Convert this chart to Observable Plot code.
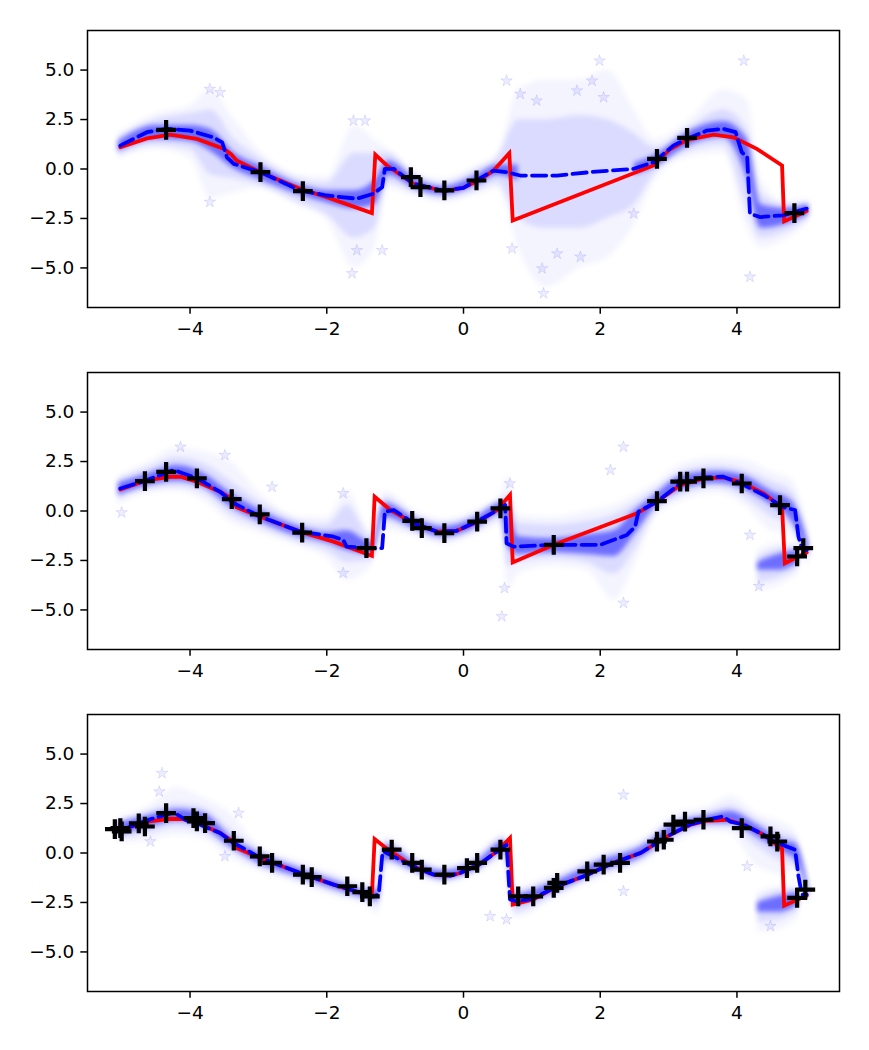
<!DOCTYPE html>
<html>
<head>
<meta charset="utf-8">
<script src="https://cdn.jsdelivr.net/npm/d3@7"></script>
<script src="https://cdn.jsdelivr.net/npm/@observablehq/plot@0.6"></script>
<style>
  body { margin: 0; background: #fff; }
  #chart svg { display: block; }
</style>
</head>
<body>
<div id="chart"></div>
<script>
// ---------- tick labels ----------
const xTicks = [-4, -2, 0, 2, 4];
const yTicks = [-5, -2.5, 0, 2.5, 5];

// ---------- panel 1 (top) ----------
const truthTop = [[-5.02,1.10],[-4.63,1.55],[-4.29,1.74],[-3.90,1.52],[-3.51,1.02],[-3.40,0.75],[-3.32,0.43],[-2.97,-0.16],[-2.39,-1.0],[-2.0,-1.42],[-1.34,-2.23],[-1.29,0.73],[-1.12,0.18],[-0.73,-0.75],[-0.29,-1.12],[0.0,-0.95],[0.24,-0.55],[0.44,-0.08],[0.67,0.80],[0.72,-2.6],[2.78,0.18],[3.02,1.0],[3.27,1.47],[3.66,1.74],[3.95,1.60],[4.29,1.02],[4.66,0.18],[4.69,-2.65],[5.02,-2.12]];
const meanTop = [[-5.02,1.18],[-4.63,1.86],[-4.34,2.03],[-4.0,1.94],[-3.66,1.60],[-3.53,1.35],[-3.46,0.59],[-3.36,0.26],[-2.97,-0.16],[-2.39,-1.08],[-2.0,-1.34],[-1.56,-1.50],[-1.32,-1.25],[-1.19,-0.92],[-1.15,0.01],[-1.02,0.01],[-0.73,-0.75],[-0.29,-1.10],[0.0,-0.95],[0.2,-0.55],[0.44,-0.08],[0.63,-0.16],[0.83,-0.33],[1.37,-0.33],[1.85,-0.16],[2.49,0.01],[2.78,0.34],[3.07,1.18],[3.27,1.52],[3.56,1.94],[3.80,2.03],[3.98,1.86],[4.07,0.85],[4.15,0.59],[4.19,-2.26],[4.34,-2.43],[4.68,-2.34],[5.02,-2.0]];
const trainTop = [[-4.35,1.98],[-2.97,-0.16],[-2.35,-1.12],[-0.77,-0.41],[-0.63,-0.92],[-0.28,-1.08],[0.19,-0.58],[2.83,0.51],[3.27,1.57],[4.84,-2.23]];
// x, faint lo/hi, mid lo/hi, core lo/hi
const cloudTop = [[-5.05,0.5,1.8,0.7,1.6,0.9,1.4],[-4.5,1.0,2.8,1.2,2.5,1.5,2.2],[-4.0,0.5,3.2,1.0,2.8,1.4,2.2],[-3.7,-1.5,4.0,-0.3,3.0,0.9,2.0],[-3.35,-1.2,2.5,-0.5,1.5,0.0,0.8],[-3.0,-1.0,1.0,-0.8,0.6,-0.5,0.2],[-2.4,-1.9,-0.3,-1.7,-0.5,-1.3,-0.8],[-2.0,-2.6,-0.4,-2.3,-0.7,-1.7,-1.1],[-1.6,-5.0,2.2,-3.5,0.8,-2.0,-1.1],[-1.3,-4.0,1.5,-3.0,0.8,-1.8,-0.6],[-1.1,-1.0,1.0,-0.7,0.8,-0.3,0.4],[-0.7,-1.4,-0.1,-1.2,-0.3,-1.0,-0.5],[-0.3,-1.7,-0.5,-1.5,-0.7,-1.3,-0.9],[0.2,-1.3,0.2,-1.1,0.0,-0.8,-0.3],[0.5,-1.0,0.8,-0.7,0.6,-0.3,0.2],[0.8,-4.0,4.0,-2.5,2.5,-0.6,0.2],[1.2,-6.0,4.5,-3.0,2.5,null,null],[1.7,-5.0,4.5,-3.0,2.7,null,null],[2.1,-4.5,5.0,-2.5,2.5,null,null],[2.5,-2.8,3.0,-1.8,1.8,-0.3,0.3],[2.8,-0.6,1.5,-0.2,1.1,0.1,0.7],[3.3,0.6,2.5,0.9,2.1,1.2,1.9],[3.8,0.8,4.0,1.2,3.0,1.6,2.4],[4.15,-3.0,3.5,-2.0,2.0,-0.5,1.5],[4.35,-4.0,-0.5,-3.5,-1.2,-3.0,-1.8],[4.7,-3.6,-1.6,-3.2,-1.8,-2.8,-2.0],[5.05,-2.7,-1.5,-2.5,-1.7,-2.3,-1.8]];
const cloudTopLower = [];
const starsTop = [[-3.71,4.04],[-3.56,3.87],[-3.71,-1.67],[-1.61,2.44],[-1.44,2.44],[-1.63,-5.28],[-1.56,-4.11],[-1.19,-4.11],[0.63,4.46],[0.83,3.79],[1.07,3.45],[1.66,3.96],[2.05,3.62],[1.99,5.47],[1.88,4.46],[1.17,-6.29],[1.15,-5.03],[0.71,-4.02],[1.37,-4.28],[1.71,-4.44],[2.49,-2.26],[4.19,-5.45],[4.10,5.47]];

// ---------- panel 2 (middle) ----------
const truthMid = [[-5.02,1.09],[-4.63,1.56],[-4.29,1.73],[-4.14,1.73],[-3.90,1.48],[-3.56,0.97],[-3.36,0.55],[-3.32,0.19],[-2.97,-0.29],[-2.39,-1.04],[-1.90,-1.55],[-1.34,-2.27],[-1.30,0.72],[-1.07,0.05],[-0.73,-0.62],[-0.39,-1.04],[-0.10,-1.0],[0.24,-0.50],[0.49,0.05],[0.68,0.81],[0.72,-2.6],[1.32,-1.71],[2.54,-0.12],[2.83,0.47],[3.17,1.31],[3.51,1.65],[3.80,1.70],[4.05,1.48],[4.39,0.89],[4.66,0.19],[4.70,-2.64],[5.02,-2.10]];
const meanMid = [[-5.02,1.14],[-4.63,1.56],[-4.24,2.07],[-3.90,1.65],[-3.56,0.97],[-3.36,0.39],[-2.97,-0.29],[-2.39,-1.04],[-1.90,-1.30],[-1.76,-1.46],[-1.71,-1.80],[-1.41,-1.88],[-1.19,-1.88],[-1.15,-0.03],[-1.02,0.05],[-0.73,-0.62],[-0.39,-1.04],[-0.10,-1.0],[0.24,-0.45],[0.54,0.13],[0.61,0.30],[0.63,-1.63],[0.73,-1.80],[1.32,-1.71],[2.0,-1.71],[2.39,-1.21],[2.51,-0.79],[2.56,-0.03],[2.83,0.47],[3.17,1.39],[3.51,1.70],[3.80,1.73],[4.05,1.40],[4.39,0.81],[4.68,0.19],[4.85,0.05],[4.90,-1.30],[4.95,-1.88],[5.02,-1.97]];
const trainMid = [[-4.66,1.51],[-4.35,1.98],[-3.90,1.65],[-3.39,0.60],[-2.98,-0.17],[-2.36,-1.09],[-1.42,-1.88],[-0.75,-0.50],[-0.61,-0.87],[-0.28,-1.12],[0.20,-0.54],[0.54,0.13],[1.32,-1.71],[2.83,0.50],[3.17,1.48],[3.27,1.48],[3.51,1.65],[4.07,1.39],[4.63,0.30],[4.97,-1.88],[4.88,-2.30]];
const cloudMid = [[-5.05,0.3,1.8,0.6,1.6,0.8,1.4],[-4.6,0.9,2.5,1.1,2.2,1.3,1.9],[-4.2,1.0,3.2,1.2,2.7,1.5,2.3],[-3.8,0.5,3.0,0.9,2.4,1.2,1.9],[-3.4,-0.6,2.5,-0.2,1.5,0.2,0.9],[-3.0,-1.1,1.0,-0.8,0.5,-0.5,0.1],[-2.4,-1.8,-0.3,-1.6,-0.5,-1.3,-0.8],[-2.0,-2.4,-0.3,-2.0,-0.7,-1.6,-1.1],[-1.7,-3.5,1.0,-2.6,0.3,-2.0,-1.0],[-1.35,-2.8,-1.0,-2.5,-1.3,-2.2,-1.6],[-1.15,-1.0,1.0,-0.6,0.7,-0.3,0.4],[-0.7,-1.3,0.0,-1.1,-0.2,-0.9,-0.4],[-0.3,-1.7,-0.4,-1.5,-0.6,-1.3,-0.8],[0.2,-1.2,0.1,-1.0,-0.1,-0.8,-0.3],[0.55,-0.7,0.9,-0.4,0.6,-0.1,0.4],[0.65,-4.0,1.8,-2.8,0.8,-1.8,0.2],[0.8,-3.2,-0.2,-2.6,-0.6,-2.2,-1.3],[1.3,-2.8,-0.3,-2.4,-0.7,-2.1,-1.4],[1.8,-3.0,0.0,-2.6,-0.5,-2.2,-1.2],[2.2,-4.5,0.3,-3.2,-0.2,-2.3,-1.0],[2.5,-2.8,0.8,-2.0,0.4,-1.2,0.0],[2.8,-0.4,1.4,-0.1,1.1,0.2,0.8],[3.2,0.5,2.4,0.8,2.0,1.1,1.8],[3.7,0.9,2.7,1.2,2.3,1.4,2.0],[4.1,0.3,2.6,0.7,2.1,1.1,1.8],[4.5,-1.0,2.0,-0.3,1.5,0.3,1.0],[4.8,-1.2,1.6,-0.8,1.0,-0.5,0.5],[5.05,-2.9,-1.0,-2.6,-1.3,-2.3,-1.7]];
const cloudMidLower = [[4.3,-4.0,-2.0,-3.6,-2.3,-3.0,-2.6],[4.6,-3.8,-1.6,-3.4,-1.9,-3.0,-2.2],[4.9,-3.2,-1.6,-2.9,-1.8,-2.6,-2.0]];
const starsMid = [[-5.0,-0.08],[-4.14,3.24],[-3.49,2.82],[-2.80,1.22],[-1.76,0.89],[-1.76,-3.14],[0.68,1.39],[0.56,-5.33],[0.60,-3.9],[2.34,3.24],[2.15,2.07],[2.34,-4.65],[4.19,-1.21],[4.32,-3.8]];

// ---------- panel 3 (bottom) ----------
const truthBot = [[-5.02,1.14],[-4.63,1.59],[-4.29,1.73],[-4.10,1.71],[-3.90,1.54],[-3.56,1.01],[-3.39,0.62],[-3.32,0.25],[-2.97,-0.25],[-2.39,-1.01],[-1.90,-1.60],[-1.34,-2.19],[-1.30,0.71],[-1.07,0.08],[-0.73,-0.68],[-0.44,-1.09],[-0.19,-1.14],[-0.05,-1.01],[0.24,-0.56],[0.49,0.08],[0.68,0.76],[0.72,-2.61],[1.02,-2.35],[1.37,-1.68],[1.76,-1.18],[2.19,-0.50],[2.59,0.0],[2.98,0.84],[3.32,1.43],[3.56,1.63],[3.85,1.68],[4.10,1.43],[4.39,0.92],[4.66,0.20],[4.69,-2.66],[5.02,-2.15]];
const meanBot = [[-5.02,1.14],[-4.63,1.65],[-4.24,2.05],[-4.05,1.65],[-3.90,1.50],[-3.56,1.01],[-3.36,0.50],[-2.97,-0.25],[-2.39,-1.01],[-1.90,-1.60],[-1.41,-2.10],[-1.32,-2.19],[-1.24,-2.10],[-1.19,-0.17],[-1.17,0.08],[-0.73,-0.68],[-0.44,-1.09],[-0.19,-1.14],[-0.05,-1.01],[0.24,-0.56],[0.49,0.08],[0.63,0.42],[0.68,-2.35],[0.78,-2.45],[1.02,-2.30],[1.37,-1.68],[1.76,-1.18],[2.19,-0.50],[2.59,0.0],[2.98,0.84],[3.32,1.45],[3.56,1.68],[3.80,1.85],[3.90,1.59],[4.10,1.43],[4.39,0.92],[4.54,0.58],[4.85,0.17],[4.90,-1.18],[4.95,-2.10],[5.02,-2.10]];
const trainBot = [[-5.10,1.21],[-5.02,1.26],[-5.00,1.09],[-4.75,1.50],[-4.66,1.34],[-4.35,2.02],[-3.95,1.76],[-3.90,1.60],[-3.78,1.51],[-3.36,0.62],[-2.98,-0.17],[-2.80,-0.50],[-2.35,-1.09],[-2.22,-1.22],[-1.70,-1.68],[-1.48,-1.98],[-1.37,-2.19],[-1.05,0.17],[-0.75,-0.50],[-0.61,-0.84],[-0.28,-1.09],[0.05,-0.76],[0.20,-0.50],[0.54,0.17],[0.80,-2.19],[1.02,-2.19],[1.32,-1.76],[1.37,-1.51],[1.81,-0.93],[2.05,-0.59],[2.29,-0.50],[2.83,0.58],[2.93,0.67],[3.07,1.43],[3.24,1.59],[3.51,1.68],[4.07,1.26],[4.49,0.84],[4.59,0.58],[5.0,-1.85],[4.88,-2.27]];
const cloudBot = [[-5.05,0.5,1.8,0.7,1.6,0.9,1.5],[-4.6,0.6,2.4,1.0,2.1,1.3,1.9],[-4.2,0.9,3.3,1.3,2.5,1.6,2.2],[-3.8,0.7,2.8,1.0,2.3,1.3,2.0],[-3.4,-0.3,2.0,0.1,1.2,0.3,0.8],[-3.0,-0.9,0.4,-0.7,0.2,-0.5,0.0],[-2.4,-1.6,-0.4,-1.4,-0.6,-1.2,-0.8],[-1.9,-2.2,-1.0,-2.0,-1.2,-1.8,-1.4],[-1.4,-2.7,-1.5,-2.5,-1.7,-2.3,-1.9],[-1.25,-3.1,-1.5,-2.7,-1.7,-2.4,-1.9],[-1.15,-0.7,0.9,-0.5,0.6,-0.3,0.4],[-0.7,-1.2,-0.1,-1.0,-0.3,-0.9,-0.5],[-0.3,-1.6,-0.6,-1.4,-0.8,-1.3,-0.9],[0.2,-1.1,0.0,-0.9,-0.2,-0.8,-0.4],[0.6,-0.4,1.0,-0.2,0.8,0.1,0.6],[0.75,-3.3,-1.7,-3.0,-1.9,-2.6,-2.1],[1.3,-2.4,-1.1,-2.2,-1.3,-2.0,-1.5],[2.0,-1.3,0.0,-1.1,-0.2,-0.9,-0.4],[2.6,-0.6,0.7,-0.4,0.5,-0.2,0.3],[3.1,0.5,2.0,0.8,1.7,1.0,1.5],[3.6,1.1,2.4,1.3,2.1,1.5,1.9],[3.9,1.0,2.9,1.3,2.4,1.5,2.1],[4.3,-0.7,2.0,0.3,1.7,0.8,1.4],[4.7,-1.1,1.5,-0.5,1.0,0.0,0.6],[4.85,-0.9,1.1,-0.6,0.8,-0.3,0.5],[5.05,-2.8,-1.3,-2.5,-1.6,-2.3,-1.8]];
const cloudBotLower = [[4.3,-4.0,-2.0,-3.5,-2.3,-3.0,-2.5],[4.6,-3.9,-1.7,-3.4,-1.9,-3.0,-2.2],[4.9,-3.3,-1.7,-2.9,-1.8,-2.6,-2.0]];
const starsBot = [[-4.41,4.03],[-4.45,3.10],[-4.58,0.58],[-3.29,2.02],[-3.49,-0.17],[0.39,-3.20],[0.63,-3.36],[2.34,2.94],[2.34,-1.93],[4.15,-0.67],[4.49,-3.70]];

// ---------- drawing ----------
const fmtX = d => (d < 0 ? "\u2212" : "") + Math.abs(d);
const fmtY = d => (d < 0 ? "\u2212" : "") + Math.abs(d).toFixed(1);
const pts = arr => arr.map(([x, y]) => ({x, y}));
const bandRows = (arr, seg) => arr.map(([x, fLo, fHi, mLo, mHi, cLo, cHi]) => ({x, fLo, fHi, mLo, mHi, cLo, cHi, seg}));

function panel(idx, truth, mean, train, cloud, cloudLower, stars, height, marginBottom) {
  const rows = bandRows(cloud, "a").concat(bandRows(cloudLower, "b"));
  const svg = Plot.plot({
    width: 869,
    height,
    marginLeft: 87,
    marginRight: 30,
    marginTop: 30,
    marginBottom,
    style: {fontFamily: "DejaVu Sans, sans-serif", fontSize: "18.5px", color: "black", background: "white"},
    x: {domain: [-5.5, 5.5]},
    y: {domain: [-7, 7]},
    marks: [
      Plot.areaY(rows, {x: "x", y1: "fLo", y2: "fHi", z: "seg", fill: "blue", fillOpacity: 0.045, curve: "monotone-x"}),
      Plot.areaY(rows, {x: "x", y1: "mLo", y2: "mHi", z: "seg", fill: "blue", fillOpacity: 0.1, curve: "monotone-x"}),
      Plot.areaY(rows, {x: "x", y1: "cLo", y2: "cHi", z: "seg", fill: "blue", fillOpacity: 0.5, curve: "monotone-x"}),
      Plot.dot(pts(stars), {x: "x", y: "y", symbol: "star", r: 3.6, fill: "blue", fillOpacity: 0.07, stroke: "blue", strokeOpacity: 0.1, strokeWidth: 1}),
      Plot.line(pts(truth), {x: "x", y: "y", stroke: "red", strokeWidth: 3.8, strokeLinejoin: "miter", strokeMiterlimit: 10}),
      Plot.line(pts(mean), {x: "x", y: "y", stroke: "blue", strokeWidth: 3.8, strokeDasharray: "14.2,6.1"}),
      Plot.dot(pts(train), {x: "x", y: "y", symbol: "plus", r: 6.4, stroke: "black", strokeWidth: 4.2}),
      Plot.frame({stroke: "black", strokeWidth: 1.5}),
      Plot.axisX({ticks: xTicks, tickFormat: fmtX, tickSize: 6.7, tickPadding: 8, strokeWidth: 1.5, label: null}),
      Plot.axisY({ticks: yTicks, tickFormat: fmtY, tickSize: 6.7, tickPadding: 6.5, strokeWidth: 1.5, label: null})
    ]
  });
  const ns = "http://www.w3.org/2000/svg";
  const defs = document.createElementNS(ns, "defs");
  const filter = document.createElementNS(ns, "filter");
  filter.setAttribute("id", "cloudBlur" + idx);
  filter.setAttribute("x", "-10%"); filter.setAttribute("y", "-20%");
  filter.setAttribute("width", "120%"); filter.setAttribute("height", "140%");
  const blur = document.createElementNS(ns, "feGaussianBlur");
  blur.setAttribute("stdDeviation", "2.5");
  filter.appendChild(blur);
  defs.appendChild(filter);
  svg.insertBefore(defs, svg.firstChild);
  svg.querySelectorAll('g[aria-label="area"]').forEach(g => g.setAttribute("filter", `url(#cloudBlur${idx})`));
  return svg;
}

const chart = document.getElementById("chart");
chart.appendChild(panel(1, truthTop, meanTop, trainTop, cloudTop, cloudTopLower, starsTop, 342, 35));
chart.appendChild(panel(2, truthMid, meanMid, trainMid, cloudMid, cloudMidLower, starsMid, 342, 35));
chart.appendChild(panel(3, truthBot, meanBot, trainBot, cloudBot, cloudBotLower, starsBot, 366, 59));
</script>
</body>
</html>
